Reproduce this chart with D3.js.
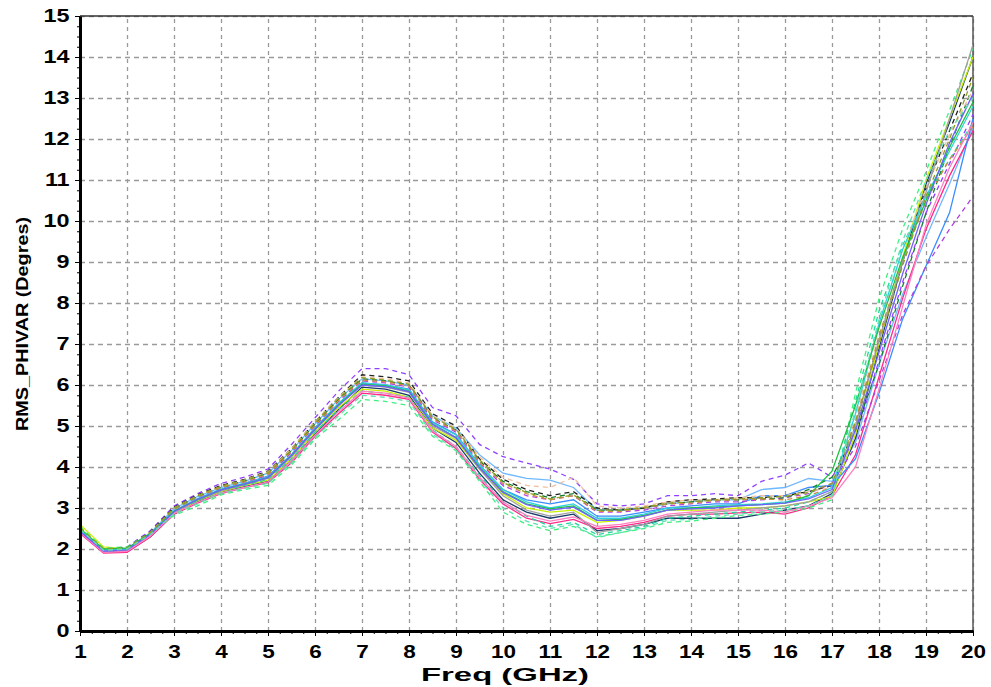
<!DOCTYPE html>
<html><head><meta charset="utf-8">
<script src="https://cdn.jsdelivr.net/npm/d3@7"></script>
<style>body{margin:0;background:#fff}</style></head>
<body><svg id="chart" width="991" height="687"></svg>
<script>
const freq = [1,1.5,2,2.5,3,3.5,4,4.5,5,5.5,6,6.5,7,7.5,8,8.5,9,9.5,10,10.5,11,11.5,12,12.5,13,13.5,14,14.5,15,15.5,16,16.5,17,17.5,18,18.5,19,19.5,20];
const xTickLabels = [1,2,3,4,5,6,7,8,9,10,11,12,13,14,15,16,17,18,19,20];
const yTickLabels = [0,1,2,3,4,5,6,7,8,9,10,11,12,13,14,15];

const rms01 = [2.5,2.0,2.05,2.45,3.05,3.35,3.6,3.75,3.95,4.55,5.2,5.85,6.4,6.4,6.25,5.45,5.25,4.55,4.25,4.1,3.95,3.7,3.1,3.05,3.1,3.3,3.3,3.35,3.3,3.65,3.8,4.1,3.75,4.7,6.6,8.5,10.2,11.4,12.6];
const rms02 = [2.45,1.98,2.0,2.4,2.98,3.28,3.5,3.65,3.85,4.4,5.05,5.65,6.15,6.1,6.0,5.25,4.95,4.3,3.85,3.72,3.68,3.5,2.95,2.95,3.0,3.1,3.15,3.2,3.2,3.45,3.5,3.72,3.65,4.6,6.5,8.2,9.6,10.9,12.3];
const rms03 = [2.48,2.0,2.02,2.42,3.02,3.32,3.55,3.7,3.9,4.45,5.1,5.7,6.25,6.2,6.1,5.3,5.0,4.2,3.7,3.45,3.3,3.4,3.0,2.95,3.0,3.15,3.2,3.22,3.25,3.25,3.3,3.4,3.55,5.0,7.1,9.0,10.8,12.2,13.6];
const rms04 = [2.4,1.93,1.93,2.3,2.85,3.15,3.38,3.52,3.65,4.15,4.8,5.4,5.95,5.9,5.75,4.95,4.6,3.85,3.2,2.9,2.75,2.85,2.45,2.5,2.6,2.75,2.75,2.75,2.75,2.85,2.95,3.05,3.35,4.7,6.9,9.0,10.9,12.4,14.0];
const rms05 = [2.38,1.9,1.92,2.3,2.85,3.12,3.35,3.5,3.62,4.1,4.75,5.3,5.8,5.75,5.65,4.85,4.45,3.7,3.1,2.75,2.62,2.72,2.5,2.55,2.65,2.8,2.85,2.85,2.88,2.9,2.85,3.0,3.3,4.3,6.2,8.1,9.8,11.1,12.2];
const rms06 = [2.6,2.05,2.0,2.35,2.88,3.18,3.4,3.55,3.68,4.2,4.85,5.45,5.9,5.85,5.7,4.95,4.65,3.95,3.35,3.0,2.9,2.95,2.65,2.7,2.8,2.95,2.95,2.95,3.0,3.0,3.05,3.15,3.28,4.8,7.0,9.1,11.0,12.5,14.0];
const rms07 = [2.55,2.02,2.05,2.4,2.82,3.05,3.32,3.45,3.55,4.05,4.68,5.15,5.65,5.6,5.5,4.75,4.4,3.65,2.9,2.6,2.45,2.55,2.3,2.4,2.5,2.65,2.68,2.75,2.82,2.85,2.9,3.0,3.2,5.8,8.1,9.8,11.2,12.7,14.2];
const rms08 = [2.5,1.98,2.0,2.38,2.9,3.18,3.42,3.55,3.7,4.2,4.85,5.4,5.85,5.8,5.7,4.9,4.5,3.8,3.15,2.8,2.55,2.65,2.35,2.45,2.55,2.75,2.8,2.85,2.9,2.95,3.0,3.15,3.4,5.6,7.8,9.4,10.6,11.5,12.4];
const rms09 = [2.42,1.95,1.98,2.36,2.92,3.22,3.45,3.6,3.78,4.3,4.95,5.55,6.05,6.0,5.9,5.1,4.8,4.05,3.45,3.2,3.1,3.2,2.8,2.8,2.9,3.0,3.05,3.1,3.1,3.3,3.3,3.5,3.55,4.2,5.8,7.6,8.9,10.2,12.5];
const rms10 = [2.45,1.97,1.99,2.37,2.95,3.25,3.48,3.62,3.8,4.35,5.0,5.6,6.1,6.05,5.95,5.15,4.85,4.1,3.55,3.3,3.2,3.3,2.9,2.9,2.95,3.05,3.1,3.15,3.15,3.2,3.25,3.35,3.6,4.5,6.1,7.7,8.9,9.8,10.6];
const rms11 = [2.47,1.99,2.03,2.4,2.98,3.28,3.5,3.66,3.85,4.4,5.05,5.65,6.15,6.1,6.0,5.2,4.9,4.15,3.65,3.4,3.25,3.35,2.95,2.95,3.0,3.1,3.15,3.2,3.2,3.22,3.25,3.45,3.75,4.9,6.5,8.4,10.2,11.8,13.3];
const rms12 = [2.5,2.0,2.0,2.4,3.0,3.3,3.52,3.68,3.88,4.45,5.1,5.7,6.2,6.15,6.05,5.25,4.95,4.25,3.75,3.55,3.5,3.75,3.05,3.0,3.05,3.15,3.2,3.2,3.25,3.3,3.3,3.4,3.5,5.2,7.4,9.3,10.8,12.1,13.2];
const rms13 = [2.46,1.98,2.0,2.39,2.96,3.26,3.5,3.64,3.82,4.38,5.02,5.62,6.12,6.08,5.98,5.18,4.88,4.12,3.6,3.35,3.2,3.3,2.92,2.92,3.0,3.1,3.12,3.18,3.2,3.22,3.2,3.3,3.5,5.1,7.2,9.0,10.5,11.5,12.3];
const rms14 = [2.44,1.96,1.97,2.34,2.9,3.2,3.42,3.57,3.72,4.25,4.9,5.5,6.0,5.95,5.82,5.0,4.7,3.95,3.3,2.95,2.8,2.9,2.4,2.5,2.6,2.8,2.85,2.9,2.95,3.0,3.05,3.15,3.4,5.0,7.1,9.0,10.7,12.5,14.3];
const rms15 = [2.47,1.98,2.0,2.37,2.93,3.23,3.46,3.6,3.76,4.3,4.95,5.55,6.05,6.0,5.88,5.08,4.78,4.05,3.45,3.15,3.0,3.1,2.75,2.75,2.85,3.0,3.0,3.05,3.08,3.1,3.15,3.25,3.5,5.3,7.5,9.3,10.6,11.7,12.8];
const rms16 = [2.5,2.0,2.02,2.38,2.92,3.2,3.44,3.58,3.74,4.28,4.92,5.52,6.02,5.98,5.85,5.05,4.72,4.0,3.4,3.1,2.98,3.05,2.7,2.72,2.82,2.95,3.0,3.02,3.05,3.08,3.12,3.3,3.9,5.5,7.4,9.1,10.5,11.8,12.9];
const rms17 = [2.4,1.92,1.94,2.32,2.87,3.14,3.37,3.5,3.64,4.15,4.78,5.35,5.85,5.8,5.68,4.88,4.5,3.75,3.15,2.82,2.68,2.78,2.55,2.6,2.7,2.85,2.9,2.95,2.95,2.95,2.9,3.05,3.25,4.0,5.9,7.9,9.9,11.3,12.4];
const rms18 = [2.52,2.01,2.02,2.41,3.0,3.3,3.53,3.68,3.86,4.42,5.08,5.68,6.18,6.12,6.02,5.22,4.92,4.18,3.62,3.38,3.22,3.32,2.95,2.95,3.02,3.12,3.15,3.2,3.22,3.25,3.28,3.38,3.6,5.1,7.0,8.9,10.6,12.0,13.5];
const rms19 = [2.43,1.95,1.98,2.36,2.91,3.21,3.44,3.58,3.74,4.28,4.92,5.5,6.0,5.96,5.84,5.04,4.72,3.98,3.38,3.08,2.95,3.02,2.7,2.7,2.8,2.95,2.98,3.0,3.05,3.08,3.12,3.22,3.45,4.9,6.8,8.7,10.4,11.9,13.1];
const rms20 = [2.48,1.97,2.0,2.36,2.86,3.1,3.36,3.48,3.6,4.1,4.72,5.25,5.75,5.7,5.6,4.8,4.42,3.7,3.0,2.68,2.5,2.6,2.28,2.4,2.52,2.7,2.72,2.8,2.85,2.9,2.95,3.05,3.3,5.4,7.6,9.5,11.0,12.2,13.0];

const seriesValues = [rms01,rms02,rms03,rms04,rms05,rms06,rms07,rms08,rms09,rms10,rms11,rms12,rms13,rms14,rms15,rms16,rms17,rms18,rms19,rms20];
const seriesColors = ["#9040ff","#70b8ff","#202020","#1a3a6a","#ff2a8a","#c8f000","#40f080","#20d8a0","#3a8cff","#b040e0","#108030","#f0c0a0","#d08a40","#a0a0a0","#30d0e0","#20c040","#ff80c0","#90a020","#7060ff","#60e0b0"];
const seriesDashed = [true,false,true,false,false,false,true,true,false,true,true,true,true,false,false,false,false,true,false,true];

const svg = d3.select("#chart");
const X0 = 80, X1 = 973, Y0 = 631, Y1 = 16;
const x = d3.scaleLinear().domain([1,20]).range([X0,X1]);
const y = d3.scaleLinear().domain([0,15]).range([Y0,Y1]);

svg.append("rect").attr("width",991).attr("height",687).attr("fill","#fff");

// grid
const gridX = svg.append("g").attr("transform",`translate(0,${Y0})`)
  .call(d3.axisBottom(x).tickValues(xTickLabels).tickSize(-(Y0-Y1)).tickFormat(""));
gridX.select(".domain").remove();
gridX.selectAll("line").attr("stroke","#9a9a9a").attr("stroke-width",1.3).attr("stroke-dasharray","4,4");
const gridY = svg.append("g").attr("transform",`translate(${X0},0)`)
  .call(d3.axisLeft(y).tickValues(yTickLabels).tickSize(-(X1-X0)).tickFormat(""));
gridY.select(".domain").remove();
gridY.selectAll("line").attr("stroke","#9a9a9a").attr("stroke-width",1.3).attr("stroke-dasharray","5,4");

// frame top/right
svg.append("line").attr("x1",X0).attr("x2",X1).attr("y1",Y1).attr("y2",Y1).attr("stroke","#333").attr("stroke-width",1.5);
svg.append("line").attr("x1",X1).attr("x2",X1).attr("y1",Y1).attr("y2",Y0).attr("stroke","#555").attr("stroke-width",1.5);

// lines
svg.append("clipPath").attr("id","clip").append("rect").attr("x",X0).attr("y",Y1).attr("width",X1-X0).attr("height",Y0-Y1);
const line = d3.line().x((d,i)=>x(freq[i])).y(d=>y(d));
const lg = svg.append("g").attr("clip-path","url(#clip)");
seriesValues.forEach((vals,k)=>{
  lg.append("path").attr("d",line(vals)).attr("fill","none")
    .attr("stroke",seriesColors[k]).attr("stroke-width",1.3)
    .attr("stroke-dasharray",seriesDashed[k]?"5,4":null);
});

// minor ticks
const minorX = d3.range(1,20.001,0.25);
const minorY = d3.range(0,15.001,0.25);
svg.append("g").attr("transform",`translate(0,${Y0})`)
  .call(d3.axisBottom(x).tickValues(minorX).tickSize(3).tickFormat("").tickSizeOuter(0))
  .call(g=>{g.select(".domain").remove(); g.selectAll("line").attr("stroke","#000");});
svg.append("g").attr("transform",`translate(${X0},0)`)
  .call(d3.axisLeft(y).tickValues(minorY).tickSize(3).tickFormat("").tickSizeOuter(0))
  .call(g=>{g.select(".domain").remove(); g.selectAll("line").attr("stroke","#000");});

// main axes
const ax = svg.append("g").attr("transform",`translate(0,${Y0})`)
  .call(d3.axisBottom(x).tickValues(xTickLabels).tickSize(5).tickSizeOuter(0).tickPadding(9));
ax.select(".domain").attr("stroke","#000").attr("stroke-width",3);
ax.selectAll("line").attr("stroke","#000");
ax.selectAll("text").attr("font-family","Liberation Sans, Arial, sans-serif").attr("font-weight","bold")
  .attr("font-size",18).attr("fill","#000").attr("transform","scale(1.25,1)")
  .attr("x",function(){return 0;});
ax.selectAll(".tick").each(function(){
  const t=d3.select(this); const tr=t.attr("transform");
});
const ay = svg.append("g").attr("transform",`translate(${X0},0)`)
  .call(d3.axisLeft(y).tickValues(yTickLabels).tickSize(5).tickSizeOuter(0).tickPadding(3));
ay.select(".domain").attr("stroke","#000").attr("stroke-width",3);
ay.selectAll("line").attr("stroke","#000");
ay.selectAll("text").attr("font-family","Liberation Sans, Arial, sans-serif").attr("font-weight","bold")
  .attr("font-size",18).attr("fill","#000").attr("transform","scale(1.3,1)");

// titles
svg.append("text").attr("x",505).attr("y",681).attr("text-anchor","middle")
  .attr("font-family","Liberation Sans, Arial, sans-serif").attr("font-weight","bold").attr("font-size",19)
  .attr("textLength",168).attr("lengthAdjust","spacingAndGlyphs").text("Freq (GHz)");
svg.append("text").attr("transform","translate(28,324) rotate(-90)").attr("text-anchor","middle")
  .attr("font-family","Liberation Sans, Arial, sans-serif").attr("font-weight","bold").attr("font-size",17)
  .attr("textLength",214).attr("lengthAdjust","spacingAndGlyphs").text("RMS_PHIVAR (Degres)");
</script></body></html>
